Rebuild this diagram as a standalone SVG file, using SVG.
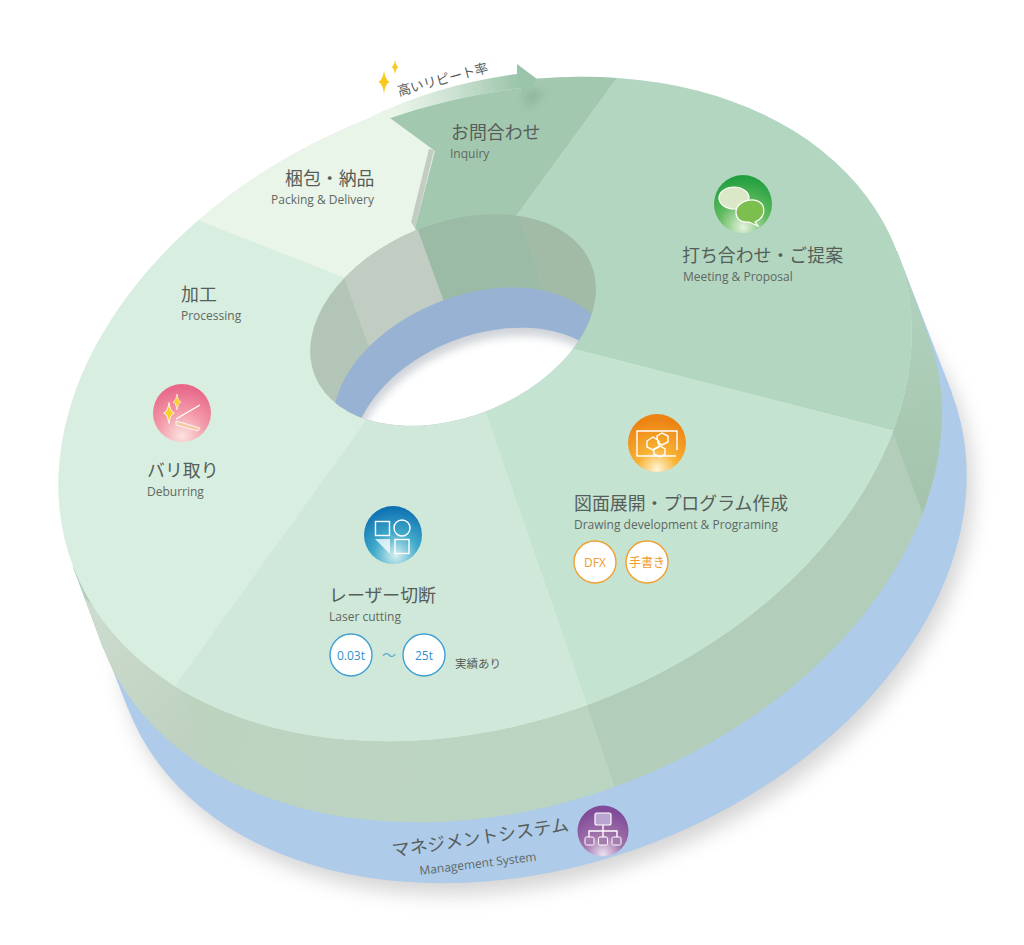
<svg xmlns="http://www.w3.org/2000/svg" width="1024" height="945" viewBox="0 0 1024 945">
<style>
.jp{font-family:"Noto Sans CJK JP","Noto Sans",sans-serif;font-size:17.9px;fill:#565e59}
.en{font-family:"Open Sans","Noto Sans",sans-serif;font-size:12px;fill:#5f6863}
.ln{fill:none;stroke:#fff;stroke-width:1.4}
</style>
<defs>
<clipPath id="cTop"><ellipse cx="485" cy="409" rx="441" ry="313" transform="rotate(-21 485 409)"/></clipPath>
<clipPath id="cHole"><ellipse cx="453" cy="320" rx="149" ry="97" transform="rotate(-22 453 320)"/></clipPath>
<clipPath id="cWhite"><ellipse cx="486" cy="431" rx="140" ry="96" transform="rotate(-22 486 431)"/></clipPath>
<clipPath id="cWall"><path d="M897 251L927 332L103 648L73 567Z"/><ellipse cx="515" cy="490" rx="441" ry="313" transform="rotate(-21 515 490)"/></clipPath>
<filter id="b14" x="-20%" y="-20%" width="140%" height="140%"><feGaussianBlur stdDeviation="10"/></filter>
<filter id="b4" x="-20%" y="-20%" width="140%" height="140%"><feGaussianBlur stdDeviation="4"/></filter>
<linearGradient id="gArrow" gradientUnits="userSpaceOnUse" x1="392" y1="105" x2="520" y2="80"><stop offset="0" stop-color="#eaf5e9"/><stop offset=".45" stop-color="#cfe3d4"/><stop offset="1" stop-color="#9ac4a9"/></linearGradient>
<linearGradient id="gLeft" gradientUnits="userSpaceOnUse" x1="80" y1="600" x2="200" y2="720"><stop offset="0" stop-color="#cddccf"/><stop offset="1" stop-color="#bfd2c1"/></linearGradient>
<linearGradient id="gLaser" gradientUnits="userSpaceOnUse" x1="180" y1="700" x2="620" y2="760"><stop offset="0" stop-color="#bdd3c0"/><stop offset="1" stop-color="#bbd5c3"/></linearGradient>
<linearGradient id="gMeet" gradientUnits="userSpaceOnUse" x1="900" y1="270" x2="930" y2="520"><stop offset="0" stop-color="#b1d3bd"/><stop offset="1" stop-color="#a4c2ac"/></linearGradient>
<radialGradient id="gGreen" cx=".5" cy=".9" r=".85"><stop offset="0" stop-color="#e6f2de"/><stop offset=".5" stop-color="#63bb60"/><stop offset="1" stop-color="#22a040"/></radialGradient>
<radialGradient id="gOrange" cx=".5" cy=".95" r=".85"><stop offset="0" stop-color="#fff4d6"/><stop offset=".4" stop-color="#f9b233"/><stop offset="1" stop-color="#ec8414"/></radialGradient>
<radialGradient id="gBlue" cx=".55" cy=".85" r=".85"><stop offset="0" stop-color="#d6f0f0"/><stop offset=".45" stop-color="#42aacb"/><stop offset="1" stop-color="#0a6eb0"/></radialGradient>
<radialGradient id="gPink" cx=".5" cy=".9" r=".85"><stop offset="0" stop-color="#fbe3e0"/><stop offset=".5" stop-color="#f39aa8"/><stop offset="1" stop-color="#e8678a"/></radialGradient>
<radialGradient id="gPurple" cx=".5" cy=".95" r=".85"><stop offset="0" stop-color="#eadff0"/><stop offset=".45" stop-color="#a173aa"/><stop offset="1" stop-color="#804b98"/></radialGradient>
<path id="star" d="M0-10Q1.2-1.2 5 0Q1.2 1.2 0 10Q-1.2 1.2-5 0Q-1.2-1.2 0-10Z"/>
</defs>
<rect width="1024" height="945" fill="#fff"/>

<g id="base-shadow" fill="#8f8f8f" opacity=".38" filter="url(#b14)">
<ellipse cx="546" cy="562" rx="441" ry="313" transform="rotate(-21 546 562)"/>
</g>

<g id="layer-management">
<path d="M897 251L952 393L128 709L73 567Z" fill="#aecbea"/>
<ellipse cx="540" cy="551" rx="441" ry="313" transform="rotate(-21 540 551)" fill="#aecbea"/>
</g>

<g id="walls" clip-path="url(#cWall)">
<rect x="40" y="200" width="940" height="660" fill="#b2cdb9"/>
<path d="M892 430L925 520L1000 500L960 220L880 220Z" fill="url(#gMeet)"/>
<path d="M585 700L633 840L205 860L180 680Z" fill="url(#gLaser)"/>
<path d="M180 680L205 775L210 860L40 860L40 560Z" fill="url(#gLeft)"/>
</g>

<g id="ring-top" clip-path="url(#cTop)">
<rect x="0" y="0" width="1024" height="945" fill="#d8eee0"/>
<path d="M453 320L100 182L300 0L395 0L390 118L434 150L415 228Z" fill="#eaf5e9"/>
<path d="M415 228L434 150L429 149L411 222Z" fill="#c3cbc3"/>
<path d="M453 320L415 228L435 151L390 118Q450 97 521 88L530 0L650 33L517 215Z" fill="#a3c8b0"/>
<path d="M453 320L517 215L650 33L1024 0L1024 464L578 350Z" fill="#b3d6c1"/>
<path d="M453 320L578 350L1024 464L1024 945L620 800L483 405Z" fill="#c4e3d1"/>
<path d="M453 320L483 405L620 800L100 945L100 790L368 418Z" fill="#cfe8d9"/>
</g>

<g id="hole">
<g clip-path="url(#cHole)">
<rect x="300" y="200" width="310" height="240" fill="#b3c5b7"/>
<path d="M343 275L368 345L440 330L443 299L418 230L400 200L330 220Z" fill="#c1cdc3"/>
<path d="M418 230L443 299L450 340L560 340L542 288L520 217L500 200L410 200Z" fill="#9cbba7"/>
<path d="M520 217L542 288L560 340L620 360L620 200L500 200Z" fill="#a2bba7"/>
<ellipse cx="472" cy="391" rx="145" ry="95" transform="rotate(-22 472 391)" fill="#97b2d3"/>
<ellipse cx="486" cy="431" rx="140" ry="96" transform="rotate(-22 486 431)" fill="#cfd3d8"/>
<g clip-path="url(#cWhite)"><ellipse cx="488" cy="439" rx="140" ry="96" transform="rotate(-22 488 439)" fill="#fff" filter="url(#b4)"/></g>
</g>
</g>

<g id="connectors">
<path d="M530 88L545 92L530 108L522 100Z" fill="#6f9a80" opacity=".35" filter="url(#b4)"/>
<path id="arrow-repeat" d="M372 116Q440 84 517 74L517 64L537 79L522 98L521 88Q450 97 390 118Z" fill="url(#gArrow)"/>
</g>

<g id="node-repeat">
<use href="#star" transform="translate(384 82) scale(1.15)" fill="#f8c81c"/>
<use href="#star" transform="translate(395 67) scale(.72)" fill="#f8c81c"/>
<text class="jp" style="font-size:13.300px" transform="translate(399 96) rotate(-15)">高いリピート率</text>
</g>

<g id="node-inquiry">
<text class="jp" x="451" y="139">お問合わせ</text>
<text class="en" x="450" y="158">Inquiry</text>
</g>

<g id="node-packing">
<text class="jp" x="285" y="185">梱包・納品</text>
<text class="en" x="271" y="204">Packing &amp; Delivery</text>
</g>

<g id="node-processing">
<text class="jp" x="181" y="301">加工</text>
<text class="en" x="181" y="320">Processing</text>
</g>

<g id="node-meeting">
<circle cx="743" cy="204" r="29" fill="url(#gGreen)"/>
<ellipse cx="734" cy="198" rx="15" ry="11" fill="#dbe8c8" stroke="#fff" stroke-width="1.2"/>
<path d="M736 212C736 200 758 195 763 206C766 215 760 220 755 222L758 226L749 222C741 223 736 219 736 212Z" fill="#7dbf4e" stroke="#fff" stroke-width="1.2"/>
<text class="jp" x="682" y="262">打ち合わせ・ご提案</text>
<text class="en" x="683" y="281">Meeting &amp; Proposal</text>
</g>

<g id="node-drawing">
<circle cx="657" cy="443" r="29" fill="url(#gOrange)"/>
<path class="ln" d="M677 450V431H637V456H676"/>
<path class="ln" d="M647 441L653 437L659 441L659 447L653 450L647 447ZM657 436L662 433L668 436L668 442L662 445L658 443ZM654 449L660 446L665 449L665 454L660 457L654 454Z"/>
<text class="jp" x="574" y="510">図面展開・プログラム作成</text>
<text class="en" x="574" y="529">Drawing development &amp; Programing</text>
<circle cx="595" cy="562" r="21" fill="#fff" stroke="#f0a030" stroke-width="1.4"/>
<text class="en" x="595" y="566.500" text-anchor="middle" style="fill:#f09c2a;font-size:12px">DFX</text>
<circle cx="647" cy="562" r="21" fill="#fff" stroke="#f0a030" stroke-width="1.4"/>
<text class="jp" x="647" y="566.500" text-anchor="middle" style="fill:#f09c2a;font-size:12px">手書き</text>
</g>

<g id="node-laser">
<circle cx="393" cy="535" r="29" fill="url(#gBlue)"/>
<rect class="ln" x="375.500" y="521.500" width="14" height="14"/>
<circle class="ln" cx="402" cy="528" r="8"/>
<path d="M375 539H390V554Z" fill="#fff" opacity=".75"/>
<rect class="ln" x="395" y="539.500" width="14" height="14"/>
<text class="jp" x="329" y="602">レーザー切断</text>
<text class="en" x="329" y="621">Laser cutting</text>
<circle cx="351" cy="655" r="21" fill="#fff" stroke="#3f9fd3" stroke-width="1.4"/>
<text class="en" x="351" y="659.500" text-anchor="middle" style="fill:#2f8fc8;font-size:12px">0.03t</text>
<text class="jp" x="389" y="660" text-anchor="middle" style="fill:#5fa8d4;font-size:14px">～</text>
<circle cx="424" cy="655" r="21" fill="#fff" stroke="#3f9fd3" stroke-width="1.4"/>
<text class="en" x="424" y="659.500" text-anchor="middle" style="fill:#2f8fc8;font-size:12px">25t</text>
<text class="jp" x="455" y="668" style="font-size:11.500px">実績あり</text>
</g>

<g id="node-deburring">
<circle cx="182" cy="413" r="29" fill="url(#gPink)"/>
<use href="#star" transform="translate(169 413) scale(1.05)" fill="#fbd026" stroke="#fff" stroke-width=".8"/>
<use href="#star" transform="translate(177 402) scale(.8)" fill="#fbd026" stroke="#fff" stroke-width=".8"/>
<path class="ln" d="M176 419L200 405"/>
<path d="M176 421L200 428L198 431L176 425Z" fill="#f6c8a8" stroke="#fff" stroke-width=".8"/>
<text class="jp" x="147" y="477">バリ取り</text>
<text class="en" x="147" y="496">Deburring</text>
</g>

<g id="node-management">
<circle cx="603" cy="831" r="25.500" fill="url(#gPurple)"/>
<rect x="595" y="813" width="16" height="12" rx="2" fill="#b9a5cf" stroke="#fff" stroke-width="1.2"/>
<path class="ln" d="M603 825V831M589 837V831H617V837M603 831V837"/>
<rect x="585" y="837" width="9" height="8" rx="1.500" fill="#a57cb0" stroke="#fff"/>
<rect x="598.500" y="837" width="9" height="8" rx="1.500" fill="#a57cb0" stroke="#fff"/>
<rect x="612" y="837" width="9" height="8" rx="1.500" fill="#a57cb0" stroke="#fff"/>
<text class="jp" transform="translate(393 857) rotate(-8.500)">マネジメントシステム</text>
<text class="en" transform="translate(420 875) rotate(-7)">Management System</text>
</g>
</svg>
